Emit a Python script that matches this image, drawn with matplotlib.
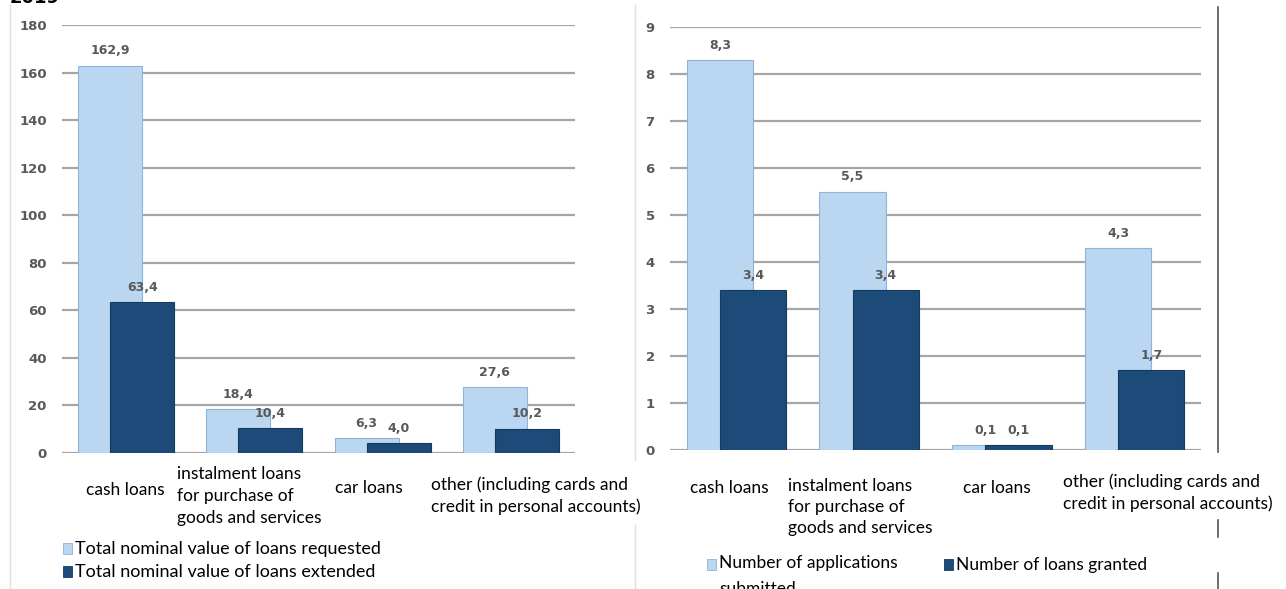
import matplotlib.pyplot as plt
import numpy as np
from matplotlib.lines import Line2D

# data
categories = ['cash loans', 'instalment loans\nfor purchase of\ngoods and services',
              'car loans', 'other (including cards and\ncredit in personal accounts)']
value_requested = [162.9, 18.4, 6.3, 27.6]
value_extended = [63.4, 10.4, 4.0, 10.2]
apps_submitted = [8.3, 5.5, 0.1, 4.3]
loans_granted = [3.4, 3.4, 0.1, 1.7]

left_legend = ['Total nominal value of loans requested', 'Total nominal value of loans extended']
right_legend = ['Number of applications\nsubmitted', 'Number of loans granted']

light = '#bad6f0'
light_edge = '#8fb3d9'
dark = '#1d4b79'
dark_edge = '#143a60'
grid_c = '#a6a6a6'
num_c = '#595959'
txt_font = ['Lato', 'DejaVu Sans']

fig = plt.figure(figsize=(12.86, 5.89), dpi=100)
W, H = 1286, 589


def px_axes(x0, x1, ytop, ybot):
    return fig.add_axes([x0 / W, 1 - ybot / H, (x1 - x0) / W, (ybot - ytop) / H])


def fmt(v):
    return f'{v:.1f}'.replace('.', ',')


def draw(ax, a, b, ymax, step, label_pos):
    x = np.arange(len(a))
    ax.set_xlim(-0.5, len(a) - 0.5)
    ax.set_ylim(0, ymax)
    ax.set_yticks(np.arange(0, ymax + step / 2, step))
    for y in ax.get_yticks():
        ax.axhline(y, color=grid_c, lw=1.6, zorder=0)
    ax.bar(x - 0.125, a, width=0.5, color=light, edgecolor=light_edge, lw=0.8, zorder=2)
    ax.bar(x + 0.125, b, width=0.5, color=dark, edgecolor=dark_edge, lw=0.8, zorder=3)
    for i in range(len(a)):
        ax.annotate(fmt(a[i]), (x[i] - 0.125, a[i]), xytext=(0, 6), textcoords='offset points',
                    ha='center', va='bottom', fontsize=9, fontweight='bold', color=num_c, zorder=4)
        ax.annotate(fmt(b[i]), (x[i] + 0.125, b[i]), xytext=(0, 6), textcoords='offset points',
                    ha='center', va='bottom', fontsize=9, fontweight='bold', color=num_c, zorder=4)
    for s in ax.spines.values():
        s.set_visible(False)
    ax.tick_params(axis='y', length=0, pad=11, labelsize=9.5, labelcolor=num_c)
    for t in ax.get_yticklabels():
        t.set_fontweight('bold')
    ax.set_xticks([])
    for i, (dx, dy, ls) in enumerate(label_pos):
        ax.text(x[i] + dx, dy, categories[i], transform=ax.get_xaxis_transform(),
                ha='center', va='center', multialignment='left', fontsize=12.5,
                family=txt_font, linespacing=ls, color='black')


ax1 = px_axes(62, 575, 25, 453)
draw(ax1, value_requested, value_extended, 180, 20,
     [(-0.01, -0.086, 1.4), (-0.04, -0.10, 1.45), (-0.11, -0.082, 1.4), (0.195, -0.10, 1.4)])

ax2 = px_axes(670, 1201, 27, 450)
draw(ax2, apps_submitted, loans_granted, 9, 1,
     [(-0.05, -0.090, 1.4), (-0.07, -0.135, 1.4), (-0.04, -0.090, 1.4), (0.25, -0.100, 1.4)])

# legends
def legend_item(xp, yp, color, edge, text, size=13):
    fig.patches.append(plt.Rectangle((xp / W, 1 - (yp + 5) / H), 9 / W, 11 / H,
                                     transform=fig.transFigure, facecolor=color,
                                     edgecolor=edge, lw=0.6))
    return fig.text((xp + 12) / W, 1 - yp / H, text, ha='left', va='center', fontsize=size,
                    family=txt_font, linespacing=1.3)

legend_item(63, 549, light, light_edge, left_legend[0])
legend_item(63, 572, dark, dark_edge, left_legend[1])
t = legend_item(707, 565, light, light_edge, right_legend[0], 12.5)
t.set_va('top')
t.set_y(1 - 555 / H)
t.set_linespacing(1.75)
legend_item(944, 565, dark, dark_edge, right_legend[1], 12.5)

# frame lines
def vline(xp, y0, y1, color, lw):
    fig.add_artist(Line2D([xp / W, xp / W], [1 - y0 / H, 1 - y1 / H], color=color, lw=lw))

vline(10, 5, 589, '#e0e0e0', 1)
vline(635, 5, 460, '#e0e0e0', 1)
vline(635, 525, 589, '#e0e0e0', 1)
vline(1218, 7, 452, '#555555', 1.2)
vline(1218, 520, 537, '#555555', 1.2)
vline(1218, 573, 589, '#555555', 1.2)

fig.text(10 / W, 1 - 3 / H, '2019', ha='left', va='baseline', fontsize=13, fontweight='bold')

fig.savefig('out.png', dpi=100)
